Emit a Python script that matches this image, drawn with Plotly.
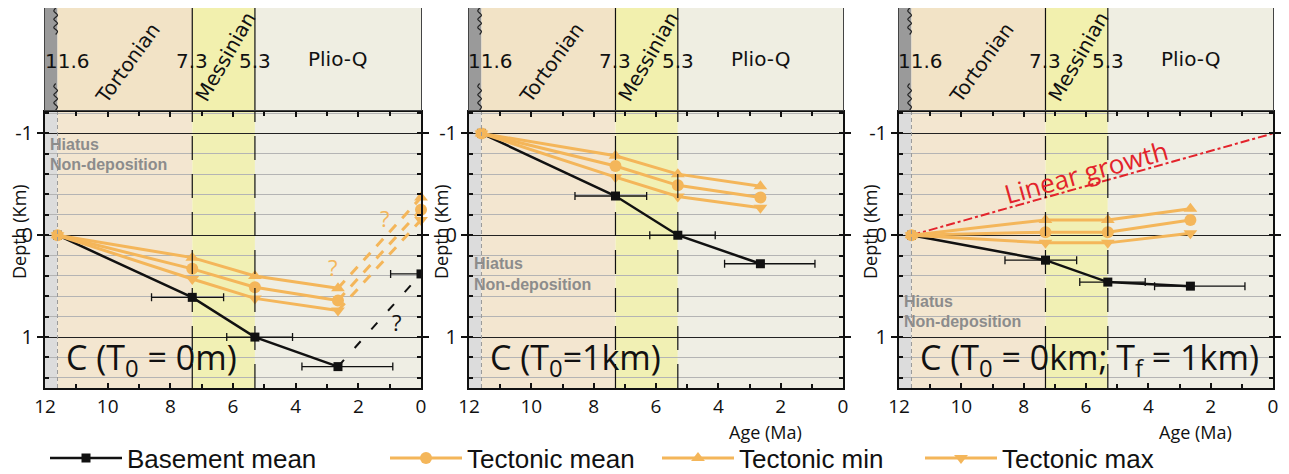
import plotly.graph_objects as go

# page body has an 8px margin: the figure is laid out in reference pixels minus OFF
OFF = 8
W, H = 1289 - OFF, 474 - OFF


def fx(px):
    return (px - OFF) / W


def fy(py):
    return 1 - (py - OFF) / H


# ---------------- data ----------------
ages = [11.6, 7.3, 5.3, 2.65]
stage_bounds = [12, 11.6, 7.3, 5.3, 0]
stage_names = ["Tortonian", "Messinian", "Plio-Q"]
boundary_labels = ["11.6", "7.3", "5.3"]

err_plus = [0, 1.3, 0.9, 1.15]     # towards older ages
err_minus = [0, 1.0, 1.2, 1.75]    # towards younger ages

# Panel 1 : C (T0 = 0m)
p1_basement = [0, 0.61, 1.0, 1.29]
p1_tect_mean = [0, 0.33, 0.51, 0.64]
p1_tect_min = [0, 0.22, 0.40, 0.52]
p1_tect_max = [0, 0.43, 0.62, 0.74]
p1_now_age = 0
p1_now_basement = 0.38
p1_now_err = 0.97
p1_now_tect_mean = -0.25
p1_now_tect_min = -0.37
p1_now_tect_max = -0.15

# Panel 2 : C (T0 = 1km)
p2_basement = [-1, -0.385, 0.0, 0.28]
p2_tect_mean = [-1, -0.68, -0.49, -0.37]
p2_tect_min = [-1, -0.78, -0.60, -0.48]
p2_tect_max = [-1, -0.57, -0.38, -0.27]

# Panel 3 : C (T0 = 0km; Tf = 1km)
p3_basement = [0, 0.245, 0.46, 0.50]
p3_tect_mean = [0, -0.03, -0.03, -0.15]
p3_tect_min = [0, -0.15, -0.15, -0.26]
p3_tect_max = [0, 0.075, 0.075, -0.02]
linear_age = [11.6, 0]
linear_depth = [0, -1]

panel_titles = ["C (T<sub>0</sub> = 0m)", "C (T<sub>0</sub>=1km)",
                "C (T<sub>0</sub> = 0km; T<sub>f</sub> = 1km)"]
hiatus_depth = [-0.89, 0.28, 0.65]

# ---------------- styles ----------------
ORANGE = "#F4B65A"
BLACK = "#111111"
RED = "#E3232B"
plot_fill = ["#DCDCDC", "#F3E6D0", "#F1F0B4", "#EFEEE4"]
head_fill = ["#9A9A9A", "#F2E3C6", "#F2F0AE", "#EFEEE2"]
FONT = "Open Sans"

xdom = [[fx(45), fx(421)], [fx(469), fx(843)], [fx(899), fx(1273)]]
ydom_main = [fy(388), fy(112)]
ydom_head = [fy(110), fy(8)]

fig = go.Figure()
shapes = []
annotations = []


def add_panel(i, basement, tmean, tmin, tmax, showleg):
    xa = "x" if i == 0 else f"x{i+1}"
    ya = "y" if i == 0 else f"y{i+1}"
    fig.add_trace(go.Scatter(
        x=ages, y=basement, xaxis=xa, yaxis=ya, mode="lines+markers",
        name="Basement mean", legend="legend", showlegend=showleg,
        line=dict(color=BLACK, width=2.5),
        marker=dict(symbol="square", size=9, color=BLACK),
        error_x=dict(type="data", array=err_plus, arrayminus=err_minus,
                     color=BLACK, thickness=1.3, width=4)))
    for vals, sym, nm, lg in [(tmax, "triangle-down", "Tectonic max", "legend4"),
                              (tmean, "circle", "Tectonic mean", "legend2"),
                              (tmin, "triangle-up", "Tectonic min", "legend3")]:
        fig.add_trace(go.Scatter(
            x=ages, y=vals, xaxis=xa, yaxis=ya, mode="lines+markers",
            name=nm, legend=lg, showlegend=showleg,
            line=dict(color=ORANGE, width=3),
            marker=dict(symbol=sym, size=12, color=ORANGE)))


add_panel(0, p1_basement, p1_tect_mean, p1_tect_min, p1_tect_max, True)
# Panel 1 dashed connections to present day
fig.add_trace(go.Scatter(
    x=[ages[-1], p1_now_age], y=[p1_basement[-1], p1_now_basement],
    xaxis="x", yaxis="y", mode="lines", showlegend=False,
    line=dict(color=BLACK, width=2, dash="9px,16px")))
fig.add_trace(go.Scatter(
    x=[p1_now_age], y=[p1_now_basement], xaxis="x", yaxis="y", mode="markers",
    showlegend=False, marker=dict(symbol="square", size=9, color=BLACK),
    error_x=dict(type="data", array=[p1_now_err], arrayminus=[p1_now_err],
                 color=BLACK, thickness=1.3, width=4)))
for last, now, sym in [(p1_tect_min[-1], p1_now_tect_min, "triangle-up"),
                       (p1_tect_mean[-1], p1_now_tect_mean, "circle"),
                       (p1_tect_max[-1], p1_now_tect_max, "triangle-down")]:
    fig.add_trace(go.Scatter(
        x=[ages[-1], p1_now_age], y=[last, now], xaxis="x", yaxis="y",
        mode="lines", showlegend=False,
        line=dict(color=ORANGE, width=3, dash="10px,9px")))
    fig.add_trace(go.Scatter(
        x=[p1_now_age], y=[now], xaxis="x", yaxis="y", mode="markers",
        showlegend=False, cliponaxis=False,
        marker=dict(symbol=sym, size=12, color=ORANGE)))

add_panel(1, p2_basement, p2_tect_mean, p2_tect_min, p2_tect_max, False)

fig.add_trace(go.Scatter(
    x=linear_age, y=linear_depth, xaxis="x3", yaxis="y3", mode="lines",
    showlegend=False, line=dict(color=RED, width=2, dash="dashdot")))
add_panel(2, p3_basement, p3_tect_mean, p3_tect_min, p3_tect_max, False)

# ---------------- backgrounds, headers, texts ----------------
wave = [0.0, 0.06, -0.06, 0.06, -0.06, 0.06, -0.06, 0.0]
wave_y1 = [1.0, 0.97, 0.93, 0.89, 0.85, 0.81, 0.77, 0.74]
wave_y2 = [0.26, 0.23, 0.19, 0.15, 0.11, 0.07, 0.03, 0.0]

layout_axes = {}
for i in range(3):
    k = "" if i == 0 else str(i + 1)
    xa, ya = f"x{k}", f"y{k}"
    hk = str(i + 4)
    hx, hy = f"x{hk}", f"y{hk}"

    for j in range(4):
        shapes.append(dict(type="rect", xref=xa, yref=f"{ya} domain",
                           x0=stage_bounds[j], x1=stage_bounds[j + 1], y0=0, y1=1,
                           fillcolor=plot_fill[j], line=dict(width=0), layer="below"))
        shapes.append(dict(type="rect", xref=hx, yref=hy,
                           x0=stage_bounds[j], x1=stage_bounds[j + 1], y0=0, y1=1,
                           fillcolor=head_fill[j], line=dict(width=0), layer="below"))
    shapes.append(dict(type="line", xref=xa, yref=f"{ya} domain",
                       x0=stage_bounds[1], x1=stage_bounds[1], y0=0, y1=1,
                       line=dict(color="#9A9A9A", width=1, dash="4px,3px")))
    for b in stage_bounds[2:4]:
        shapes.append(dict(type="line", xref=xa, yref=f"{ya} domain",
                           x0=b, x1=b, y0=0, y1=1,
                           line=dict(color=BLACK, width=1.2, dash="24px,14px")))
        shapes.append(dict(type="line", xref=hx, yref=hy, x0=b, x1=b, y0=0, y1=1,
                           line=dict(color=BLACK, width=1.2)))

    # wavy unconformity
    for wy in (wave_y1, wave_y2):
        fig.add_trace(go.Scatter(
            x=[stage_bounds[1] + 0.06 + w for w in wave], y=wy, xaxis=hx, yaxis=hy,
            mode="lines", showlegend=False,
            line=dict(color="#222", width=1.2, shape="spline")))

    # header labels
    annotations.append(dict(xref=hx, yref=hy, x=stage_bounds[1], y=0.48, xanchor="left",
                            xshift=-15, text=boundary_labels[0], showarrow=False,
                            font=dict(family="DejaVu Sans", size=20, color="#111")))
    for b, lab in zip(stage_bounds[2:4], boundary_labels[1:]):
        annotations.append(dict(xref=hx, yref=hy, x=b, y=0.48, text=lab, showarrow=False,
                                font=dict(family="DejaVu Sans", size=20, color="#111")))
    annotations.append(dict(xref=hx, yref=hy, x=(stage_bounds[1] + stage_bounds[2]) / 2 - 0.1,
                            y=0.46, text=stage_names[0], textangle=-54, showarrow=False,
                            font=dict(family="DejaVu Sans", size=20, color="#111")))
    annotations.append(dict(xref=hx, yref=hy, x=(stage_bounds[2] + stage_bounds[3]) / 2 - 0.05,
                            y=0.52, text=stage_names[1], textangle=-60, showarrow=False,
                            font=dict(family="DejaVu Sans", size=20, color="#111")))
    annotations.append(dict(xref=hx, yref=hy, x=(stage_bounds[3] + stage_bounds[4]) / 2,
                            y=0.5, text=stage_names[2], showarrow=False,
                            font=dict(family="DejaVu Sans", size=20, color="#111")))

    # hiatus
    for dy, t in [(0, "Hiatus"), (0.2, "Non-deposition")]:
        annotations.append(dict(xref=xa, yref=ya, x=11.9, y=hiatus_depth[i] + dy,
                                xanchor="left", text=f"<b>{t}</b>", showarrow=False,
                                font=dict(family="Liberation Sans", size=16, color="#8C8C8C")))
    # panel title
    annotations.append(dict(xref=xa, yref=ya, x=11.4, y=1.22, xanchor="left",
                            yanchor="middle", text=panel_titles[i], showarrow=False,
                            font=dict(family=FONT, size=34, color="#111")))
    # y title
    annotations.append(dict(xref="paper", yref="paper",
                            x=fx([19, 441, 870][i]), y=fy(232),
                            xanchor="center", yanchor="middle",
                            text="Depth (Km)", textangle=-90,
                            showarrow=False, font=dict(family=FONT, size=18, color="#111")))
    if i > 0:
        annotations.append(dict(xref=xa, yref="paper", x=2.5, y=fy(432),
                                xanchor="center", yanchor="middle",
                                text="Age (Ma)", showarrow=False,
                                font=dict(family=FONT, size=18, color="#111")))

    layout_axes[f"xaxis{k}"] = dict(
        domain=xdom[i], range=[12, 0], anchor=ya, dtick=2, tick0=0, automargin=False,
        ticks="inside", ticklen=5, tickwidth=1.5, tickcolor=BLACK,
        showline=True, linecolor=BLACK, linewidth=2, mirror="ticks",
        showgrid=False, zeroline=False,
        tickfont=dict(family=FONT, size=19, color="#111"),
        minor=dict(dtick=1, tick0=0, ticks="inside", ticklen=4, tickcolor=BLACK, showgrid=False))
    layout_axes[f"yaxis{k}"] = dict(
        domain=ydom_main, range=[1.5, -1.21], anchor=xa, tickvals=[-1, 0, 1],
        ticktext=["-1", "0", "1"], automargin=False,
        ticks="outside", ticklen=6, tickwidth=1.5, tickcolor=BLACK,
        showline=True, linecolor=BLACK, linewidth=2, mirror="ticks",
        showgrid=True, gridcolor="#222", gridwidth=1.2, zeroline=False,
        tickfont=dict(family=FONT, size=20, color="#111"),
        minor=dict(dtick=0.2, tick0=0, ticks="inside", ticklen=4, tickcolor=BLACK,
                   showgrid=True, gridcolor="#B4B4B4", gridwidth=1))
    layout_axes[f"xaxis{hk}"] = dict(
        domain=xdom[i], range=[12, 0], anchor=hy, showticklabels=False, ticks="",
        automargin=False,
        showgrid=False, zeroline=False, showline=True, linecolor="#444",
        linewidth=1, mirror=True)
    layout_axes[f"yaxis{hk}"] = dict(
        domain=ydom_head, range=[0, 1], anchor=hx, showticklabels=False, ticks="",
        automargin=False,
        showgrid=False, zeroline=False, showline=True, linecolor="#444",
        linewidth=1, mirror=True)

# question marks (panel 1)
for qx, qy, col in [(2.8, 0.31, ORANGE), (1.15, -0.17, ORANGE), (0.78, 0.85, BLACK)]:
    annotations.append(dict(xref="x", yref="y", x=qx, y=qy, text="?", showarrow=False,
                            font=dict(family=FONT, size=22, color=col)))

# linear growth label
annotations.append(dict(xref="x3", yref="y3", x=6.0, y=-0.62, text="Linear growth",
                        textangle=-15.7, showarrow=False,
                        font=dict(family=FONT, size=26, color=RED)))

ITEMW = 72
legend_common = dict(orientation="h", yanchor="middle", y=fy(458), xanchor="left",
                     font=dict(family="Liberation Sans", size=26, color="#111"),
                     itemwidth=ITEMW,
                     bgcolor="rgba(0,0,0,0)", borderwidth=0, itemclick=False)
lead = ITEMW + 11

fig.update_layout(
    width=W, height=H, margin=dict(l=0, r=0, t=0, b=0, autoexpand=False),
    paper_bgcolor="white", plot_bgcolor="white",
    shapes=shapes, annotations=annotations,
    legend=dict(x=fx(128 - lead), **legend_common),
    legend2=dict(x=fx(468 - lead), **legend_common),
    legend3=dict(x=fx(740 - lead), **legend_common),
    legend4=dict(x=fx(1003 - lead), **legend_common),
    **layout_axes)

fig.write_html("out.html")
